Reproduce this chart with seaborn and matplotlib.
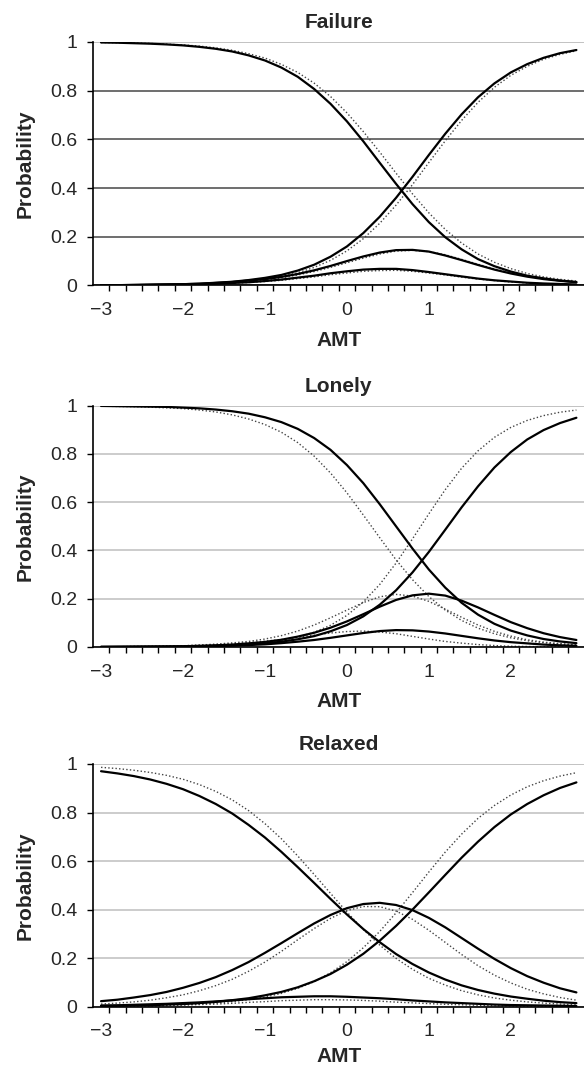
import numpy as np
import pandas as pd
import matplotlib
matplotlib.use("Agg")
import matplotlib.pyplot as plt
import seaborn as sns

# AMT grid the curves were read at
amt = [-3.0, -2.8, -2.6, -2.4, -2.2, -2.0, -1.8, -1.6, -1.4, -1.2,
       -1.0, -0.8, -0.6, -0.4, -0.2, 0.0, 0.2, 0.4, 0.6, 0.8,
       1.0, 1.2, 1.4, 1.6, 1.8, 2.0, 2.2, 2.4, 2.6, 2.8]

# category curves (0..3), solid and dotted, one list per category
failure_solid = [
    [.998, .997, .995, .993, .990, .986, .980, .972, .961, .945, .924, .895, .857, .807, .746,
     .674, .592, .504, .417, .334, .260, .198, .148, .108, .079, .057, .040, .029, .020, .014],
    [.001, .001, .001, .002, .003, .004, .005, .007, .010, .013, .018, .024, .032, .040, .050,
     .058, .065, .068, .068, .063, .055, .046, .037, .028, .021, .016, .011, .008, .006, .004],
    [.001, .001, .002, .003, .004, .005, .007, .010, .014, .020, .026, .035, .047, .062, .080,
     .100, .119, .135, .145, .146, .139, .123, .104, .084, .065, .049, .036, .026, .019, .013],
    [.001, .001, .002, .003, .004, .005, .007, .011, .015, .022, .031, .043, .061, .085, .118,
     .160, .215, .282, .360, .446, .536, .623, .703, .773, .830, .875, .909, .935, .954, .967],
]
failure_dotted = [
    [.998, .997, .996, .994, .991, .988, .983, .976, .966, .952, .934, .908, .875, .831, .776,
     .709, .632, .548, .461, .376, .298, .230, .174, .129, .095, .069, .049, .035, .025, .018],
    [.001, .001, .001, .002, .002, .003, .005, .006, .009, .012, .016, .021, .028, .035, .044,
     .051, .058, .061, .062, .058, .051, .043, .034, .026, .020, .014, .010, .007, .005, .003],
    [.001, .001, .002, .002, .003, .005, .006, .009, .013, .018, .023, .031, .043, .057, .074,
     .093, .112, .129, .141, .144, .139, .126, .107, .087, .068, .051, .038, .028, .020, .013],
    [.001, .001, .001, .002, .003, .004, .006, .009, .013, .018, .026, .037, .052, .074, .103,
     .142, .192, .255, .330, .414, .505, .594, .678, .752, .814, .863, .900, .929, .949, .964],
]
lonely_solid = [
    [.999, .998, .997, .996, .995, .992, .989, .984, .977, .967, .952, .932, .904, .866, .817,
     .754, .679, .592, .500, .408, .321, .246, .183, .134, .096, .068, .048, .033, .023, .016],
    [.000, .000, .001, .001, .001, .002, .003, .004, .006, .008, .011, .016, .022, .029, .038,
     .048, .058, .066, .070, .069, .064, .056, .046, .036, .027, .020, .015, .010, .007, .005],
    [.001, .001, .001, .002, .002, .003, .005, .007, .010, .015, .021, .030, .043, .059, .080,
     .106, .136, .167, .195, .214, .221, .213, .192, .164, .133, .103, .078, .057, .041, .029],
    [.000, .001, .001, .001, .002, .002, .003, .005, .007, .011, .015, .022, .032, .045, .065,
     .091, .127, .175, .235, .309, .394, .486, .579, .666, .744, .808, .860, .899, .928, .950],
]
lonely_dotted = [
    [.998, .997, .996, .994, .991, .988, .982, .974, .962, .945, .922, .890, .847, .791, .721,
     .639, .547, .453, .361, .279, .209, .153, .110, .078, .055, .038, .026, .018, .012, .009],
    [.001, .001, .002, .002, .003, .005, .007, .009, .013, .018, .024, .031, .040, .049, .058,
     .064, .066, .062, .055, .044, .033, .023, .016, .010, .006, .003, .002, .001, .000, .000],
    [.001, .001, .002, .002, .004, .005, .008, .012, .017, .023, .033, .047, .066, .091, .121,
     .153, .184, .208, .218, .211, .189, .157, .123, .091, .065, .045, .030, .020, .014, .009],
    [.000, .000, .001, .001, .001, .002, .003, .005, .008, .012, .018, .027, .041, .061, .090,
     .131, .187, .259, .348, .448, .552, .652, .741, .813, .869, .910, .939, .959, .973, .982],
]
relaxed_solid = [
    [.970, .961, .950, .936, .918, .896, .868, .835, .796, .749, .697, .638, .575, .510, .444,
     .380, .320, .266, .217, .176, .141, .112, .088, .069, .054, .042, .033, .025, .019, .015],
    [.005, .006, .008, .010, .012, .015, .018, .022, .026, .031, .035, .039, .041, .043, .043,
     .041, .038, .035, .031, .026, .022, .018, .015, .012, .009, .007, .006, .005, .004, .003],
    [.023, .029, .038, .048, .061, .078, .098, .122, .151, .184, .222, .262, .303, .343, .378,
     .406, .423, .428, .419, .398, .366, .327, .283, .239, .197, .159, .126, .099, .076, .059],
    [.003, .004, .005, .006, .009, .011, .015, .020, .027, .035, .047, .061, .080, .105, .135,
     .173, .218, .272, .333, .400, .471, .543, .614, .680, .740, .792, .835, .871, .901, .924],
]
relaxed_dotted = [
    [.986, .981, .974, .965, .953, .937, .915, .887, .852, .808, .754, .692, .621, .545, .467,
     .390, .318, .254, .199, .154, .117, .089, .066, .049, .036, .027, .020, .015, .011, .008],
    [.002, .002, .003, .004, .005, .007, .009, .011, .014, .018, .021, .025, .027, .029, .029,
     .028, .026, .023, .019, .016, .013, .010, .008, .006, .004, .003, .002, .002, .001, .001],
    [.011, .015, .020, .027, .037, .049, .066, .087, .113, .146, .184, .228, .276, .322, .364,
     .396, .413, .412, .394, .360, .315, .265, .215, .169, .130, .098, .072, .053, .038, .027],
    [.001, .002, .003, .004, .005, .008, .011, .015, .021, .029, .040, .055, .076, .103, .140,
     .186, .243, .310, .387, .470, .555, .637, .711, .776, .829, .872, .906, .931, .950, .964],
]

titles = ["Failure", "Lonely", "Relaxed"]
yticks = [0, 0.2, 0.4, 0.6, 0.8, 1]
ytick_labels = ["0", "0.2", "0.4", "0.6", "0.8", "1"]
xticks = [-3, -2, -1, 0, 1, 2]
xtick_labels = ["\u22123", "\u22122", "\u22121", "0", "1", "2"]
panels = [(failure_solid, failure_dotted), (lonely_solid, lonely_dotted),
          (relaxed_solid, relaxed_dotted)]

sns.set_theme(style="white")
plt.rcParams["font.family"] = ["Liberation Sans", "DejaVu Sans"]

fig = plt.figure(figsize=(5.84, 10.71), dpi=100)
boxes = [[0.159, 0.7335, 0.842, 0.2273],
         [0.159, 0.3959, 0.842, 0.2253],
         [0.159, 0.0600, 0.842, 0.2267]]

for n, ((solid, dotted), title) in enumerate(zip(panels, titles)):
    ax = fig.add_axes(boxes[n])
    rows = []
    for model, curves in [("dotted", dotted), ("solid", solid)]:
        for cat, vals in enumerate(curves):
            for xv, yv in zip(amt, vals):
                rows.append((xv, yv, cat, model))
    df = pd.DataFrame(rows, columns=["AMT", "Probability", "Category", "Model"])
    # dotted first so the solid curves sit on top
    sns.lineplot(data=df[df.Model == "dotted"], x="AMT", y="Probability", units="Category",
                 estimator=None, color="#444444", lw=1.0, ls=(0, (1, 1.6)), ax=ax, legend=False)
    sns.lineplot(data=df[df.Model == "solid"], x="AMT", y="Probability", units="Category",
                 estimator=None, color="black", lw=1.6, ax=ax, legend=False)

    ax.set_xlim(-3.1, 2.9)
    ax.set_ylim(0, 1)
    ax.set_yticks(yticks)
    ax.set_yticklabels(ytick_labels)
    ax.set_xticks(xticks)
    ax.set_xticklabels(xtick_labels)
    ax.set_xticks(np.round(np.arange(-2.9, 2.8, 0.2), 1), minor=True)
    ax.tick_params(axis="x", which="major", length=0, pad=12, labelsize=14)
    ax.tick_params(axis="x", which="minor", length=4, width=1, direction="out", color="black", bottom=True)
    ax.tick_params(axis="y", which="major", length=4, width=1, direction="out", color="black",
                   left=True, pad=7, labelsize=14)
    ax.set_xlabel("AMT", fontsize=15, fontweight="bold", labelpad=8.5 if n < 2 else 5)
    ax.set_ylabel("Probability", fontsize=15, fontweight="bold", labelpad=11)
    ax.set_title(title, fontsize=15, fontweight="bold", pad=10)

    grid_color = "#555555" if n == 0 else "#c4c4c4"
    ax.yaxis.grid(True, color=grid_color, lw=1.2)
    ax.get_ygridlines()[-1].set_color("#b8b8b8")
    ax.set_axisbelow(True)
    for side in ["top", "right"]:
        ax.spines[side].set_visible(False)
    for side in ["left", "bottom"]:
        ax.spines[side].set_color("black")
        ax.spines[side].set_linewidth(1.2)

fig.savefig("out.png", dpi=100)
